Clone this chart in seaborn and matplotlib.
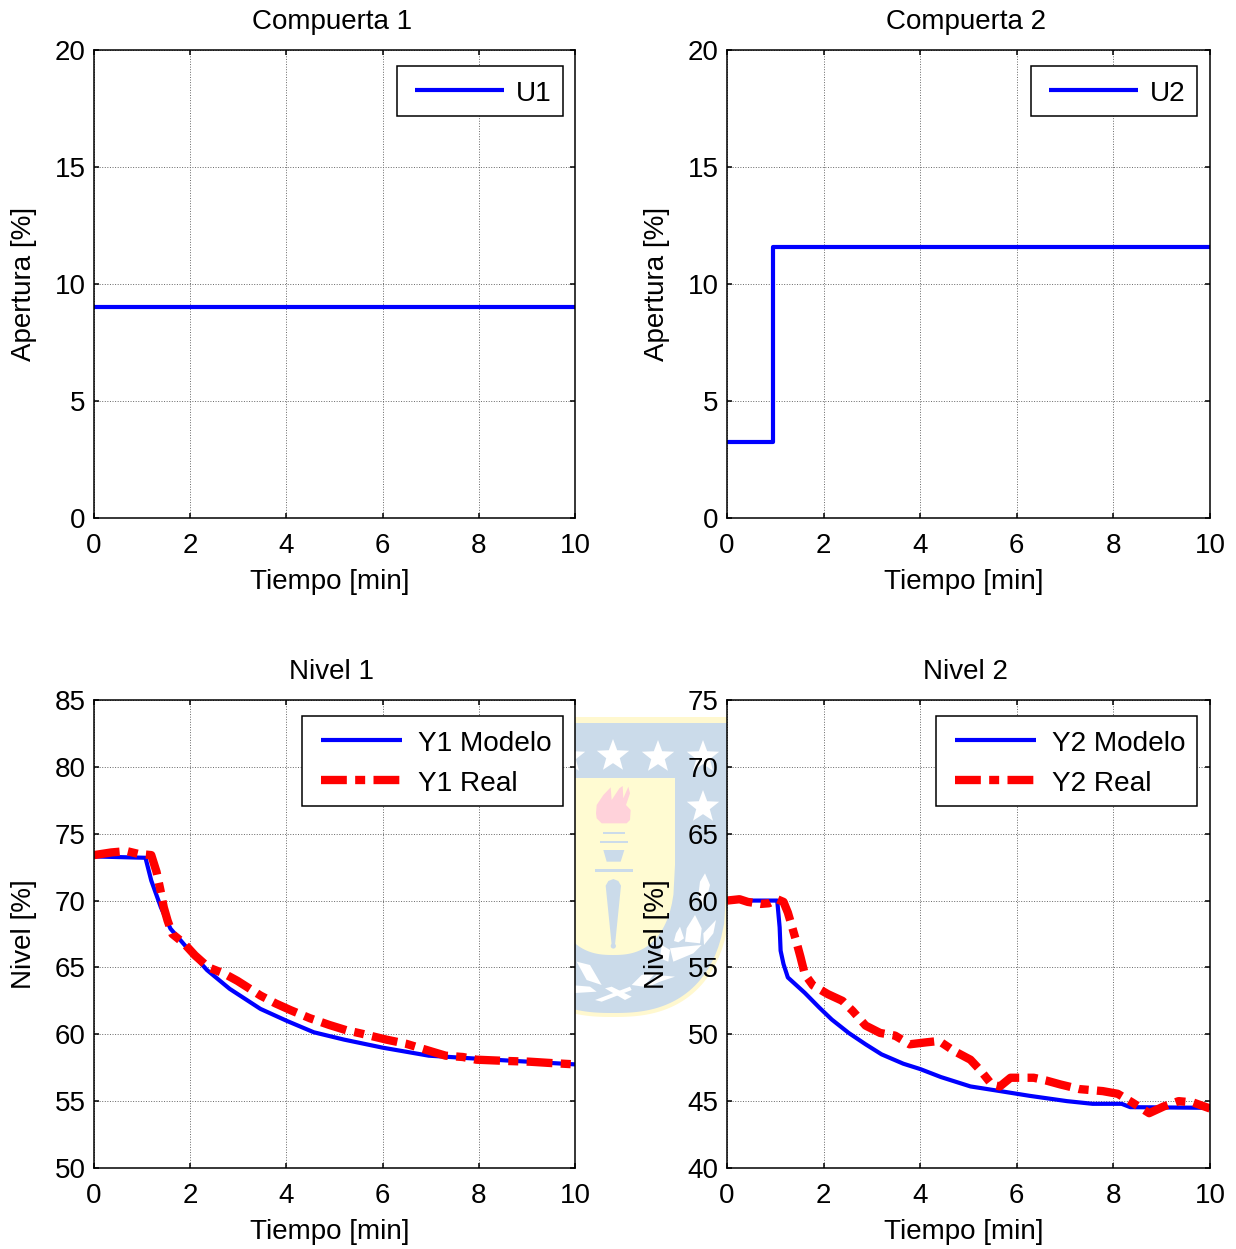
import numpy as np
import matplotlib
matplotlib.use('Agg')
import matplotlib.pyplot as plt
from matplotlib.lines import Line2D
from matplotlib.legend_handler import HandlerLine2D
from matplotlib.patches import Polygon, Rectangle, Circle
import seaborn as sns

# datos
t_u = [0, 10]
u1 = [9.0, 9.0]
t_u2 = [0, 0.95, 0.95, 10]
u2 = [3.25, 3.25, 11.6, 11.6]

t_y1m = [0, 1.07, 1.19, 1.39, 1.59, 1.95, 2.35, 2.82, 3.46, 4.01, 4.57, 5.2, 6, 6.96, 8.3, 10]
y1m = [73.3, 73.2, 71.5, 69.5, 67.9, 66.4, 64.8, 63.4, 61.9, 61.0, 60.15, 59.6, 59.0, 58.4, 58.1, 57.75]
t_y1r = [0, .36, .68, .91, 1.19, 1.3, 1.38, 1.45, 1.53, 1.63, 1.87, 2.1, 2.38, 2.7, 2.98, 3.46, 3.78, 4.09, 4.49, 4.89, 5.25, 5.56, 6.08, 6.48, 7.03, 7.31, 7.67, 7.95, 8.62, 9.06, 9.5, 10]
y1r = [73.4, 73.6, 73.7, 73.5, 73.4, 72.15, 70.8, 69.5, 68.5, 67.5, 66.8, 65.9, 65.0, 64.55, 64.0, 62.9, 62.3, 61.8, 61.2, 60.7, 60.3, 60.05, 59.6, 59.3, 58.7, 58.4, 58.3, 58.1, 58.0, 57.95, 57.85, 57.75]

t_y2m = [0, 1.04, 1.09, 1.11, 1.17, 1.26, 1.61, 1.91, 2.17, 2.52, 2.87, 3.2, 3.65, 4, 4.43, 5.04, 5.57, 6.26, 7.04, 7.57, 8.17, 8.35, 10]
y2m = [60, 60, 58, 56.25, 55.25, 54.25, 53.1, 52, 51.1, 50.1, 49.25, 48.5, 47.8, 47.4, 46.8, 46.1, 45.8, 45.4, 45, 44.8, 44.8, 44.55, 44.5]
t_y2r = [0, .26, .43, .7, .87, 1.04, 1.17, 1.26, 1.35, 1.43, 1.52, 1.61, 1.78, 2.09, 2.39, 2.6, 2.87, 3.17, 3.48, 3.78, 4.13, 4.39, 4.7, 5.04, 5.26, 5.48, 5.65, 5.87, 6.35, 6.6, 6.9, 7.3, 7.78, 8.09, 8.39, 8.74, 9.04, 9.35, 9.65, 10]
y2r = [60, 60.1, 59.9, 59.75, 59.8, 60.1, 59.9, 59.1, 58, 57, 55.8, 54.5, 53.65, 53, 52.5, 51.75, 50.65, 50.1, 49.9, 49.25, 49.4, 49.5, 48.75, 48.1, 47.25, 46.25, 46.1, 46.75, 46.75, 46.55, 46.25, 45.9, 45.75, 45.55, 44.9, 44.1, 44.6, 45, 44.9, 44.45]

x_ticks = [0, 2, 4, 6, 8, 10]
u_ticks = [0, 5, 10, 15, 20]
n1_ticks = [50, 55, 60, 65, 70, 75, 80, 85]
n2_ticks = [40, 45, 50, 55, 60, 65, 70, 75]

W, H = 1236, 1249
AZUL = '#0000ff'
ROJO = '#ff0000'
DASHDOT = (0, (3.1, 1.0, 1.2, 1.0))
FS = 20

sns.set_style('white')
plt.rcParams['font.family'] = ['Liberation Sans', 'DejaVu Sans']
plt.rcParams['font.size'] = FS
plt.rcParams['text.color'] = 'black'
plt.rcParams['axes.labelcolor'] = 'black'
plt.rcParams['xtick.color'] = 'black'
plt.rcParams['ytick.color'] = 'black'
plt.rcParams['lines.solid_capstyle'] = 'butt'

fig = plt.figure(figsize=(W / 100, H / 100), dpi=100)

# escudo de fondo (marca de agua), en pixeles de la figura
bg = fig.add_axes([0, 0, 1, 1], zorder=0)
bg.set_xlim(0, W)
bg.set_ylim(H, 0)
bg.axis('off')

CREMA = '#fff8cf'
CELESTE = '#cbdbea'
ROSA = '#ffd2da'
BLANCO = '#ffffff'


def arco(top, cy, rx, ry, cx=613, p=2.5):
    # contorno: bordes rectos arriba y curva abajo
    dx = np.linspace(rx, -rx, 80)
    yy = cy + ry * (1 - np.abs(dx / rx) ** p) ** (1 / p)
    return [(cx + rx, top)] + list(zip(cx + dx, yy)) + [(cx - rx, top)]


bg.add_patch(Polygon(arco(717, 880, 118, 137), fc=CREMA, ec='none'))
bg.add_patch(Polygon(arco(723, 880, 114, 133), fc=CELESTE, ec='none'))
bg.add_patch(Polygon(arco(778, 865, 62, 90), fc='#fffbd2', ec='none'))
bg.add_patch(Rectangle((540, 778), 73, 120, fc='#fffbd2', ec='none'))


def estrella(cx, cy, r=17):
    ang = np.pi / 2 + np.arange(10) * np.pi / 5
    rad = np.where(np.arange(10) % 2 == 0, r, r * 0.42)
    pts = np.c_[cx + rad * np.cos(ang), cy - rad * np.sin(ang)]
    bg.add_patch(Polygon(pts, fc=BLANCO, ec='none'))


for cx, cy in [(569, 757), (613, 756), (658, 757), (703, 757), (703, 807)]:
    estrella(cx, cy)


def z4(pts):
    return [(570 + a / 3, 710 + b / 3) for a, b in pts]


def z5(pts):
    return [(570 + a / 3, 865 + b / 3) for a, b in pts]


# antorcha
llama = [(78, 310), (80, 285), (100, 255), (122, 232), (125, 270), (148, 235), (158, 228), (160, 265), (175, 230), (180, 250), (168, 285), (182, 300), (180, 330), (170, 340), (95, 340), (80, 325)]
bg.add_patch(Polygon(z4(llama), fc=ROSA, ec='none'))
bg.add_patch(Polygon(z4([(98, 365), (165, 365), (165, 372), (98, 372)]), fc=CELESTE, ec='none'))
bg.add_patch(Polygon(z4([(90, 393), (175, 393), (175, 400), (90, 400)]), fc=CELESTE, ec='none'))
bg.add_patch(Polygon(z4([(100, 420), (163, 420), (152, 455), (110, 455)]), fc=CELESTE, ec='none'))
bg.add_patch(Polygon(z5([(75, 12), (190, 12), (190, 20), (75, 20)]), fc=CELESTE, ec='none'))
mango = [(107, 62), (115, 48), (130, 42), (145, 48), (153, 62), (135, 240), (125, 240)]
bg.add_patch(Polygon(z5(mango), fc=CELESTE, ec='none'))
bg.add_patch(Circle((570 + 130 / 3, 865 + 243 / 3), 2.6, fc=CELESTE, ec='none'))

# laureles blancos
hojas = [
    [(405, 25), (420, 60), (410, 100), (395, 125), (385, 90), (390, 50)],
    [(375, 150), (395, 190), (390, 235), (345, 230), (350, 190)],
    [(330, 185), (342, 220), (325, 232), (312, 228), (318, 205)],
    [(438, 165), (430, 205), (402, 240), (400, 205)],
    [(395, 240), (370, 265), (310, 290), (300, 250), (340, 245)],
    [(275, 240), (300, 255), (295, 290), (270, 280)],
    [(315, 335), (270, 350), (225, 370), (260, 330)],
    [(185, 360), (215, 330), (260, 320), (220, 365)],
    [(75, 405), (180, 365), (185, 375), (95, 410)],
    [(105, 370), (125, 365), (185, 395), (165, 405)],
    [(20, 290), (60, 300), (95, 360), (50, 345)],
    [(0, 360), (60, 365), (80, 380), (0, 385)],
]
for h in hojas:
    bg.add_patch(Polygon(z5(h), fc=BLANCO, ec='none'))


def panel_ax(x0, y0, ancho, ylim, yticks, title, ylabel):
    ax = fig.add_axes([x0 / W, 1 - (y0 + 468) / H, ancho / W, 468 / H], zorder=2, facecolor='white')
    ax.set_xlim(0, 10)
    ax.set_ylim(*ylim)
    ax.set_xticks(x_ticks)
    ax.set_yticks(yticks)
    ax.grid(True, color='#666666', linestyle=':', linewidth=0.7)
    ax.set_axisbelow(True)
    ax.tick_params(direction='in', top=True, right=True, bottom=True, left=True,
                   length=3.6, width=1.1, color='black', labelsize=FS)
    ax.tick_params(axis='x', pad=11)
    ax.tick_params(axis='y', pad=6)
    ax.set_title(title, fontsize=FS, pad=15, x=0.494)
    ax.set_xlabel('Tiempo [min]', fontsize=FS, labelpad=7, x=0.49)
    ax.set_ylabel(ylabel, fontsize=FS, labelpad=13)
    for s in ax.spines.values():
        s.set_visible(True)
        s.set_color('black')
        s.set_linewidth(1.1)
    return ax


def leyenda(ax, borde_px, handle, textpad):
    # esquina superior derecha del cuadro
    leg = ax.legend(loc='upper right', bbox_to_anchor=(borde_px, 1 - 16 / 468), borderaxespad=0,
                    fancybox=False, framealpha=1, edgecolor='black', fontsize=FS + 0.2,
                    handlelength=handle, handletextpad=textpad, borderpad=0.42, labelspacing=0.5,
                    handler_map={Line2D: HandlerLine2D(xpad=0.24)})
    leg.get_frame().set_linewidth(1.1)
    leg.set_zorder(10)
    # texto y linea un poco mas abajo, como en el original
    for t in leg.get_texts():
        t.set_y(-3)
    for h in leg.legend_handles:
        h.set_ydata(np.array(h.get_ydata()) - 1.4)


ax1 = panel_ax(94, 50, 481, (0, 20), u_ticks, 'Compuerta 1', 'Apertura [%]')
sns.lineplot(x=t_u, y=u1, ax=ax1, color=AZUL, linewidth=3, label='U1', estimator=None, sort=False)
leyenda(ax1, 469 / 481, 3.4, 0.42)

ax2 = panel_ax(727, 50, 483, (0, 20), u_ticks, 'Compuerta 2', 'Apertura [%]')
sns.lineplot(x=t_u2, y=u2, ax=ax2, color=AZUL, linewidth=3, label='U2', estimator=None, sort=False)
leyenda(ax2, 470 / 483, 3.4, 0.42)

ax3 = panel_ax(94, 700, 481, (50, 85), n1_ticks, 'Nivel 1', 'Nivel [%]')
sns.lineplot(x=t_y1m, y=y1m, ax=ax3, color=AZUL, linewidth=3, label='Y1 Modelo', estimator=None, sort=False)
sns.lineplot(x=t_y1r, y=y1r, ax=ax3, color=ROJO, linewidth=6, linestyle=DASHDOT, label='Y1 Real', estimator=None, sort=False)
leyenda(ax3, 469 / 481, 3.15, 0.55)

ax4 = panel_ax(727, 700, 483, (40, 75), n2_ticks, 'Nivel 2', 'Nivel [%]')
sns.lineplot(x=t_y2m, y=y2m, ax=ax4, color=AZUL, linewidth=3, label='Y2 Modelo', estimator=None, sort=False)
sns.lineplot(x=t_y2r, y=y2r, ax=ax4, color=ROJO, linewidth=6, linestyle=DASHDOT, label='Y2 Real', estimator=None, sort=False)
leyenda(ax4, 470 / 483, 3.15, 0.55)

fig.savefig('out.png', dpi=100)
